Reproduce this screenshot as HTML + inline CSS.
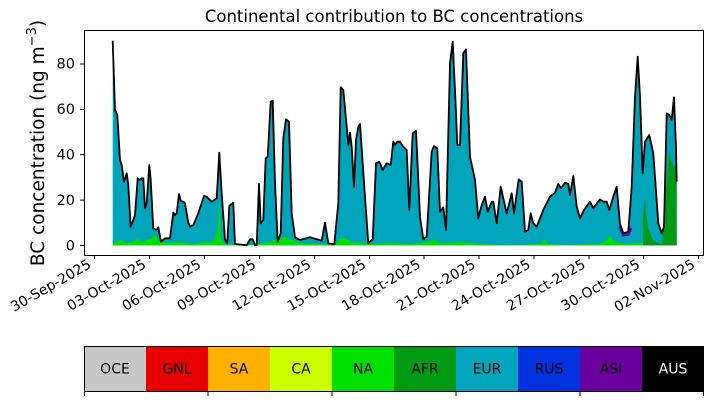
<!DOCTYPE html>
<html><head><meta charset="utf-8"><style>
body{margin:0;background:#fff;}
svg{display:block;font-family:"DejaVu Sans","Liberation Sans",sans-serif;}
</style></head><body>
<svg width="714" height="402" viewBox="0 0 714 402" xmlns="http://www.w3.org/2000/svg">
<rect width="714" height="402" fill="#fff"/>
<text x="394" y="22" font-size="16.5" text-anchor="middle">Continental contribution to BC concentrations</text>
<defs><clipPath id="c"><rect x="84" y="30" width="620" height="225"/></clipPath></defs>
<g clip-path="url(#c)">
<polygon fill="#00a4bb" points="112.7,245.5 112.7,40.7 115,110 117.3,115 120,160 121.7,165 124,181.7 126.7,173.3 128.3,185 130.7,226.7 133.3,220 135,215 137.7,178.3 140,180 141.7,178.3 143.3,178.3 145,208.3 146.7,203.3 149.3,165 150.7,180 153.3,228.3 156.7,230 158.3,227.3 161,241.7 165,238.3 170,238.3 173.3,212.7 175,215 176.7,213.3 179,194 180.7,200.7 183.3,201.7 185,203.3 188.3,222.7 190,226.7 193.3,225 198.3,213.3 204,196 206.7,196.7 211.7,201.7 216.7,198.3 219.3,152.7 221.7,193.3 225,239.3 227.3,243.3 229.3,206 233.3,202.7 235,244 246.7,245.3 250,239.3 252.7,239.3 255,245.3 256.7,245 259,184 260.7,223.3 263.3,220 265.7,158.3 267.7,156.7 270.7,101.7 272.7,100.7 275,183.3 277.7,241.7 280.7,233.3 283.3,138.3 286,119.3 289,121.7 291.7,213.3 295,237.3 300,240 310,237.3 321.7,240.7 325,222.7 328.3,243.3 334.3,244.3 338.3,203.3 340.7,87.3 343.3,90 346.7,126.7 348.3,145 350,132.7 351.7,146.7 354,186.7 356,140 358.3,126.7 360,124 365,196.7 368.3,243.3 372.7,239.3 376,163.3 379.3,161.7 382.7,170 386.7,163.3 390.7,165 393.3,141.7 395,145 397.3,141.7 400,141.7 403.3,146.7 406.7,150 409.3,210 412.7,133.3 416,130.7 420,216.7 423.3,239.3 426.7,236.7 431.7,151.7 434,146 437.3,148.3 440,211.7 443.3,207.3 446,230 450,63.3 452.7,41.7 455.3,96.7 457.3,145 460,145 463.3,53.3 466,49.3 470,156.7 475,180 478.3,218.3 481.7,205 485,196.7 487.7,211.7 491.7,201.7 493.3,201.7 496.7,223.3 500.7,186.7 503.3,198.3 506.7,213.3 511.7,193.3 514,213.3 518.7,179.3 521.7,181.7 525,231.7 528.3,230 530.7,213.3 533.3,223.3 536.7,226.7 543.3,210 550,196.7 555,192.7 558.3,184 561,188.3 565,182.7 568.3,184 570,195 573.3,176 576.7,206.7 580,218.3 584,210 590,201.7 593.3,208.3 600,199.3 603.3,201.7 606.7,201.7 609.3,210 613.3,196.7 616.7,186.7 620,224 623.3,233.3 628.3,231.7 631.7,186.7 635,96.7 637.7,56.7 640,96.7 642.7,173.3 645,141.7 649.3,135 653.3,153.3 658.3,223.3 661.7,233.3 664,226.7 666.7,113.3 669.3,115 671.7,120 674,97.3 676,146.7 676.7,181.7 676.7,245.5"/>
<polygon fill="#00e000" points="112.7,245.5 112.7,244 118,241 121,240 126,243 133,242 137,239 142,242 150,239 156,235 160,242 170,243 180,242 190,244 200,243 210,242 215,240 218,228 219.3,200 221,238 225,244 240,245 260,244 270,242 280,238 285,237 292,240 300,243 320,244 335,244 340,239 345,238 352,242 360,243 370,244 390,243 410,244 420,243 430,241 434,240 440,243 450,243 460,242 480,244 500,245 520,245 540,244 545,239 548,244 570,245 590,244 600,244 607,240 610,235 612,240 616,242 625,244 640,243 660,243 676.7,243 676.7,245.5"/>
<polygon fill="#009a14" points="643,245.5 643,215 645,200 648,228 653,240 658,243 662,244 665,200 667,180 669,150 671,160 674,168 676,163 676.7,175 676.7,245.5"/>
<polyline fill="none" stroke="#6a009e" stroke-width="3" points="620,226 623.3,235 628.3,234 631,228"/>
<polyline fill="none" stroke="#000" stroke-width="1.8" stroke-linejoin="round" points="112.7,40.7 115,110 117.3,115 120,160 121.7,165 124,181.7 126.7,173.3 128.3,185 130.7,226.7 133.3,220 135,215 137.7,178.3 140,180 141.7,178.3 143.3,178.3 145,208.3 146.7,203.3 149.3,165 150.7,180 153.3,228.3 156.7,230 158.3,227.3 161,241.7 165,238.3 170,238.3 173.3,212.7 175,215 176.7,213.3 179,194 180.7,200.7 183.3,201.7 185,203.3 188.3,222.7 190,226.7 193.3,225 198.3,213.3 204,196 206.7,196.7 211.7,201.7 216.7,198.3 219.3,152.7 221.7,193.3 225,239.3 227.3,243.3 229.3,206 233.3,202.7 235,244 246.7,245.3 250,239.3 252.7,239.3 255,245.3 256.7,245 259,184 260.7,223.3 263.3,220 265.7,158.3 267.7,156.7 270.7,101.7 272.7,100.7 275,183.3 277.7,241.7 280.7,233.3 283.3,138.3 286,119.3 289,121.7 291.7,213.3 295,237.3 300,240 310,237.3 321.7,240.7 325,222.7 328.3,243.3 334.3,244.3 338.3,203.3 340.7,87.3 343.3,90 346.7,126.7 348.3,145 350,132.7 351.7,146.7 354,186.7 356,140 358.3,126.7 360,124 365,196.7 368.3,243.3 372.7,239.3 376,163.3 379.3,161.7 382.7,170 386.7,163.3 390.7,165 393.3,141.7 395,145 397.3,141.7 400,141.7 403.3,146.7 406.7,150 409.3,210 412.7,133.3 416,130.7 420,216.7 423.3,239.3 426.7,236.7 431.7,151.7 434,146 437.3,148.3 440,211.7 443.3,207.3 446,230 450,63.3 452.7,41.7 455.3,96.7 457.3,145 460,145 463.3,53.3 466,49.3 470,156.7 475,180 478.3,218.3 481.7,205 485,196.7 487.7,211.7 491.7,201.7 493.3,201.7 496.7,223.3 500.7,186.7 503.3,198.3 506.7,213.3 511.7,193.3 514,213.3 518.7,179.3 521.7,181.7 525,231.7 528.3,230 530.7,213.3 533.3,223.3 536.7,226.7 543.3,210 550,196.7 555,192.7 558.3,184 561,188.3 565,182.7 568.3,184 570,195 573.3,176 576.7,206.7 580,218.3 584,210 590,201.7 593.3,208.3 600,199.3 603.3,201.7 606.7,201.7 609.3,210 613.3,196.7 616.7,186.7 620,224 623.3,233.3 628.3,231.7 631.7,186.7 635,96.7 637.7,56.7 640,96.7 642.7,173.3 645,141.7 649.3,135 653.3,153.3 658.3,223.3 661.7,233.3 664,226.7 666.7,113.3 669.3,115 671.7,120 674,97.3 676,146.7 676.7,181.7"/>
</g>
<rect x="84.5" y="30.5" width="619" height="225" fill="none" stroke="#000" stroke-width="1"/>
<g stroke="#000" stroke-width="1">
<line x1="80" x2="84" y1="245.5" y2="245.5"/><line x1="80" x2="84" y1="200.1" y2="200.1"/><line x1="80" x2="84" y1="154.7" y2="154.7"/><line x1="80" x2="84" y1="109.4" y2="109.4"/><line x1="80" x2="84" y1="64" y2="64"/>
</g>
<g font-size="14.5" text-anchor="end">
<text x="75" y="250.5">0</text><text x="75" y="205">20</text><text x="75" y="159.5">40</text><text x="75" y="114">60</text><text x="75" y="68.5">80</text>
</g>
<text transform="translate(44,143) rotate(-90)" font-size="18.5" text-anchor="middle">BC concentration (ng m<tspan dy="-8" font-size="13">−3</tspan><tspan dy="8">)</tspan></text>
<g stroke="#000" stroke-width="1">
<line x1="94.5" x2="94.5" y1="255" y2="259"/><line x1="149.5" x2="149.5" y1="255" y2="259"/><line x1="204.5" x2="204.5" y1="255" y2="259"/><line x1="259.5" x2="259.5" y1="255" y2="259"/><line x1="314.5" x2="314.5" y1="255" y2="259"/><line x1="369.5" x2="369.5" y1="255" y2="259"/><line x1="424" x2="424" y1="255" y2="259"/><line x1="479" x2="479" y1="255" y2="259"/><line x1="534" x2="534" y1="255" y2="259"/><line x1="589" x2="589" y1="255" y2="259"/><line x1="643.5" x2="643.5" y1="255" y2="259"/><line x1="698.5" x2="698.5" y1="255" y2="259"/>
</g>
<g font-size="14" text-anchor="end">
<text transform="translate(92,267) rotate(-30)">30-Sep-2025</text>
<text transform="translate(147,267) rotate(-30)">03-Oct-2025</text>
<text transform="translate(202,267) rotate(-30)">06-Oct-2025</text>
<text transform="translate(257,267) rotate(-30)">09-Oct-2025</text>
<text transform="translate(312,267) rotate(-30)">12-Oct-2025</text>
<text transform="translate(367,267) rotate(-30)">15-Oct-2025</text>
<text transform="translate(421.5,267) rotate(-30)">18-Oct-2025</text>
<text transform="translate(476.5,267) rotate(-30)">21-Oct-2025</text>
<text transform="translate(531.5,267) rotate(-30)">24-Oct-2025</text>
<text transform="translate(586.5,267) rotate(-30)">27-Oct-2025</text>
<text transform="translate(641,267) rotate(-30)">30-Oct-2025</text>
<text transform="translate(696,267) rotate(-30)">02-Nov-2025</text>
</g>
<g>
<rect x="84" y="346" width="62" height="45" fill="#c8c8c8"/>
<rect x="146" y="346" width="62" height="45" fill="#e60000"/>
<rect x="208" y="346" width="62" height="45" fill="#ffb000"/>
<rect x="270" y="346" width="62" height="45" fill="#ccff00"/>
<rect x="332" y="346" width="62" height="45" fill="#00e000"/>
<rect x="394" y="346" width="62" height="45" fill="#009a14"/>
<rect x="456" y="346" width="62" height="45" fill="#00a4bb"/>
<rect x="518" y="346" width="62" height="45" fill="#0032e0"/>
<rect x="580" y="346" width="62" height="45" fill="#6a009e"/>
<rect x="642" y="346" width="62" height="45" fill="#000"/>
<rect x="84.5" y="346.5" width="619" height="45" fill="none" stroke="#000"/>
</g>
<g font-size="14" text-anchor="middle">
<text x="115" y="373.5">OCE</text><text x="177" y="373.5">GNL</text><text x="239" y="373.5">SA</text><text x="301" y="373.5">CA</text><text x="363" y="373.5">NA</text><text x="425" y="373.5">AFR</text><text x="487" y="373.5">EUR</text><text x="549" y="373.5">RUS</text><text x="611" y="373.5">ASI</text><text x="673" y="373.5" fill="#fff">AUS</text>
</g>
<g stroke="#000" stroke-width="1">
<line x1="84.5" x2="84.5" y1="391" y2="396"/><line x1="208" x2="208" y1="391" y2="396"/><line x1="332" x2="332" y1="391" y2="396"/><line x1="456" x2="456" y1="391" y2="396"/><line x1="580" x2="580" y1="391" y2="396"/><line x1="703.5" x2="703.5" y1="391" y2="396"/>
</g>
</svg>
</body></html>
